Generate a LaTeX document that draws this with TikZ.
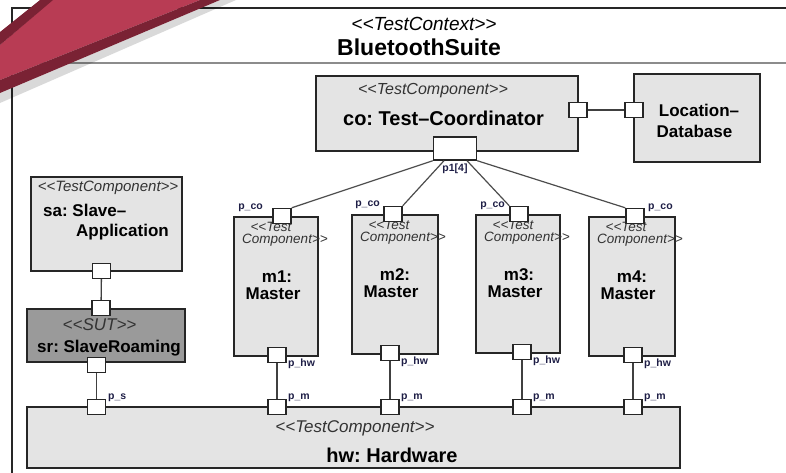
\documentclass[tikz,border=0pt]{standalone}
\usepackage{fontspec}
\setmainfont{Liberation Sans}
\frenchspacing
\definecolor{boxgray}{HTML}{E4E4E4}
\definecolor{sutgray}{HTML}{9A9A9A}
\definecolor{labnavy}{HTML}{1E1E46}
\definecolor{ribfill}{HTML}{B83C54}
\definecolor{ribdark}{HTML}{7A2234}
\newcommand\ltt{<\kern0pt<}
\newcommand\gtt{>\kern0pt>}
\begin{document}
\begin{tikzpicture}[x=1pt,y=-1pt,
  box/.style={draw=black!85, line width=1.6pt, fill=boxgray, inner sep=0pt},
  port/.style={draw=black!85, line width=1.4pt, fill=white, minimum width=18pt, minimum height=15pt, inner sep=0pt},
  wire/.style={draw=black!75, line width=1.3pt},
  ster/.style={font=\fontsize{16}{17}\selectfont\itshape, text=black!80, inner sep=0pt},
  sters/.style={font=\fontsize{15}{15}\selectfont\itshape, text=black!80, inner sep=0pt},
  sterm/.style={font=\fontsize{13.5}{14}\selectfont\itshape, text=black!80, inner sep=0pt},
  nm/.style={font=\fontsize{17}{19}\selectfont\bfseries, inner sep=0pt},
  plab/.style={font=\fontsize{10.5}{11}\selectfont\bfseries, text=labnavy, inner sep=0pt}]
\useasboundingbox (0,0) rectangle (786,472);
\begin{scope}
\clip (0,0) rectangle (786,472);
% frame
\draw[line width=1.3pt, black!85] (12,480) -- (12,8) -- (800,8);
\draw[line width=2pt, black!45] (12,63) -- (800,63);
\node[font=\fontsize{19}{20}\selectfont\itshape, inner sep=0pt] (ctxst) at (424,24) {\ltt TestContext\gtt};
\node[font=\fontsize{23}{24}\selectfont\bfseries, inner sep=0pt] (ctxnm) at (419,47) {BluetoothSuite};

% coordinator
\node[box, minimum width=262pt, minimum height=75pt] (co) at (447,113.5) {};
\node[ster] (cost) at (433,91) {\ltt TestComponent\gtt};
\node[font=\fontsize{20}{22}\selectfont\bfseries, inner sep=0pt] (conm) at (443.5,118) {co: Test–Coordinator};
\node[port] (coR) at (578,110) {};
\node[port, minimum width=43pt, minimum height=23pt] (p1) at (455,148.5) {};
\node[plab] (p1l) at (455,169) {p1[4]};

% location database
\node[box, minimum width=126pt, minimum height=88pt] (loc) at (697,118) {};
\node[nm] (locA) at (699,110) {Location–};
\node[nm] (locB) at (694.5,131) {Database};
\node[port] (locL) at (634,110) {};
\draw[wire] (coR) -- (locL);

% slave application
\node[box, minimum width=151pt, minimum height=94pt] (sa) at (106.5,224) {};
\node[sters] (sast) at (108,188) {\ltt TestComponent\gtt};
\node[nm, anchor=west] (saA) at (43,210) {sa: Slave–};
\node[nm] (saB) at (122.5,232) {Application};
\node[port] (saP) at (101.5,271) {};

% slave roaming
\node[box, fill=sutgray, minimum width=158pt, minimum height=53pt] (sr) at (106,335.5) {};
\node[ster, font=\fontsize{17}{18}\selectfont\itshape] (srst) at (99.5,325) {\ltt SUT\gtt};
\node[nm] (srnm) at (109,348) {sr: SlaveRoaming};
\node[port] (srT) at (101,308) {};
\node[port] (srB) at (96.5,365) {};
\draw[wire] (saP) -- (srT);

% hardware
\node[box, minimum width=653pt, minimum height=61pt] (hw) at (353.5,437.5) {};
\node[ster, font=\fontsize{17}{18}\selectfont\itshape] (hwst) at (355,428) {\ltt TestComponent\gtt};
\node[font=\fontsize{20}{22}\selectfont\bfseries, inner sep=0pt] (hwnm) at (392,455) {hw: Hardware};
\node[port] (ps) at (96.5,407) {};
\node[plab, anchor=west] (psl) at (108,398) {p\_s};
\draw[wire] (srB) -- (ps);

% masters
\foreach \i/\l/\t/\w/\b/\pc/\ph in {1/233/216/84/355/282/277, 2/351/214/86/353/393/390, 3/475/214/84/352/519/522, 4/588/216/86/355/635/633} {
  \node[box, minimum width=\w pt, minimum height=\b pt-\t pt, anchor=north west] (m\i) at (\l,\t) {};
  \node[sterm] at (\l+38,\t+10.5) {\ltt Test};
  \node[sterm] at (\l+52,\t+24.5) {Component\gtt};
  \node[nm] at (\l+44,\t+61) {m\i:};
  \node[nm] at (\l+40,\t+78) {Master};
  \node[port] (pco\i) at (\pc,\t) {};
  \node[port] (phw\i) at (\ph,\b) {};
  \node[port] (pm\i) at (\ph,407) {};
  \draw[wire] (phw\i) -- (pm\i);
  \node[plab, anchor=west] at (\ph+11,\b+9) {p\_hw};
  \node[plab, anchor=west] at (\ph+11,398) {p\_m};
}
\node[plab, anchor=east] at (263,208) {p\_co};
\node[plab, anchor=east] at (380,205) {p\_co};
\node[plab, anchor=east] at (505,206) {p\_co};
\node[plab, anchor=west] at (648,208) {p\_co};

\draw[wire, black!70, line width=1.2pt] (p1.south west) -- (pco1.north east);
\draw[wire, black!70, line width=1.2pt] ([xshift=-11pt]p1.south) -- (pco2.north east);
\draw[wire, black!70, line width=1.2pt] ([xshift=12pt]p1.south) -- (pco3.north west);
\draw[wire, black!70, line width=1.2pt] (p1.south east) -- (pco4.north west);

% ribbon
\fill[black, opacity=.15] (0,93) -- (220,0) -- (236,0) -- (0,103) -- cycle;
\fill[ribfill] (0,45) -- (52,0) -- (200,0) -- (0,80) -- cycle;
\fill[ribdark] (0,32) -- (40,0) -- (53,0) -- (0,45) -- cycle;
\fill[ribdark] (0,80) -- (200,0) -- (220,0) -- (0,93) -- cycle;
\end{scope}
\end{tikzpicture}
\end{document}
